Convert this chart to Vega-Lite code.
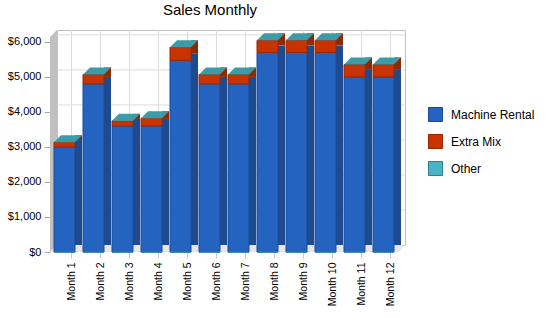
{
  "$schema": "https://vega.github.io/schema/vega-lite/v6.json",
  "width": 348,
  "height": 215,
  "autosize": "none",
  "padding": {"left": 57, "top": 30, "right": 145, "bottom": 73},
  "background": "white",
  "title": {
    "text": "Sales Monthly",
    "fontSize": 15,
    "fontWeight": "normal",
    "font": "Liberation Sans",
    "color": "#000000",
    "anchor": "middle",
    "frame": "group",
    "baseline": "alphabetic",
    "offset": 0,
    "dx": -21
  },
  "data": {
    "values": [
      {"month": "Month 1", "series": "Machine Rental", "value": 3000},
      {"month": "Month 1", "series": "Extra Mix", "value": 135},
      {"month": "Month 1", "series": "Other", "value": 0},
      {"month": "Month 2", "series": "Machine Rental", "value": 4800},
      {"month": "Month 2", "series": "Extra Mix", "value": 270},
      {"month": "Month 2", "series": "Other", "value": 0},
      {"month": "Month 3", "series": "Machine Rental", "value": 3600},
      {"month": "Month 3", "series": "Extra Mix", "value": 145},
      {"month": "Month 3", "series": "Other", "value": 0},
      {"month": "Month 4", "series": "Machine Rental", "value": 3600},
      {"month": "Month 4", "series": "Extra Mix", "value": 220},
      {"month": "Month 4", "series": "Other", "value": 0},
      {"month": "Month 5", "series": "Machine Rental", "value": 5475},
      {"month": "Month 5", "series": "Extra Mix", "value": 370},
      {"month": "Month 5", "series": "Other", "value": 0},
      {"month": "Month 6", "series": "Machine Rental", "value": 4800},
      {"month": "Month 6", "series": "Extra Mix", "value": 270},
      {"month": "Month 6", "series": "Other", "value": 0},
      {"month": "Month 7", "series": "Machine Rental", "value": 4800},
      {"month": "Month 7", "series": "Extra Mix", "value": 270},
      {"month": "Month 7", "series": "Other", "value": 0},
      {"month": "Month 8", "series": "Machine Rental", "value": 5700},
      {"month": "Month 8", "series": "Extra Mix", "value": 345},
      {"month": "Month 8", "series": "Other", "value": 0},
      {"month": "Month 9", "series": "Machine Rental", "value": 5700},
      {"month": "Month 9", "series": "Extra Mix", "value": 345},
      {"month": "Month 9", "series": "Other", "value": 0},
      {"month": "Month 10", "series": "Machine Rental", "value": 5700},
      {"month": "Month 10", "series": "Extra Mix", "value": 345},
      {"month": "Month 10", "series": "Other", "value": 0},
      {"month": "Month 11", "series": "Machine Rental", "value": 5000},
      {"month": "Month 11", "series": "Extra Mix", "value": 355},
      {"month": "Month 11", "series": "Other", "value": 0},
      {"month": "Month 12", "series": "Machine Rental", "value": 5000},
      {"month": "Month 12", "series": "Extra Mix", "value": 355},
      {"month": "Month 12", "series": "Other", "value": 0}
    ]
  },
  "layer": [
    {
      "data": {"values": [{"v": 1000}, {"v": 2000}, {"v": 3000}, {"v": 4000}, {"v": 5000}, {"v": 6000}]},
      "mark": {"type": "rule", "color": "#DCDCDC", "strokeWidth": 1},
      "encoding": {
        "y": {"field": "v", "type": "quantitative", "title": null,
          "scale": {"domain": [0, 6140], "nice": false, "zero": true},
          "axis": {"values": [0, 1000, 2000, 3000, 4000, 5000, 6000], "format": "$,d"}}
      }
    },
    {
      "mark": {"type": "rule", "color": "#DCDCDC", "strokeWidth": 1},
      "encoding": {
        "x": {"field": "month", "type": "nominal", "sort": null, "title": null, "scale": {"type": "band", "paddingInner": 0, "paddingOuter": 0}}
      }
    },
    {
      "data": {"values": [{}]},
      "mark": {"type": "point", "filled": true, "opacity": 1, "size": 400, "color": "#E6E6E6", "stroke": "#C8C8C8", "strokeWidth": 0.1,
        "shape": "M-17.4,0L17.4,0L16.7,0.7L-18.1,0.7Z"},
      "encoding": {
        "y": {"datum": 0, "type": "quantitative", "scale": {"domain": [0, 6140], "nice": false, "zero": true},
          "axis": {"values": [0, 1000, 2000, 3000, 4000, 5000, 6000], "format": "$,d"}}
      }
    },
    {
      "data": {"values": [{}]},
      "mark": {"type": "point", "filled": true, "opacity": 1, "size": 400, "color": "#C0C0C0", "strokeWidth": 0,
        "shape": "M-17.4,0L-17.4,-21.5L-18.1,-20.8L-18.1,0.7Z"},
      "encoding": {
        "y": {"datum": 0, "type": "quantitative", "scale": {"domain": [0, 6140], "nice": false, "zero": true},
          "axis": {"values": [0, 1000, 2000, 3000, 4000, 5000, 6000], "format": "$,d"}}
      }
    },
    {
      "mark": {"type": "bar", "width": 7, "xOffset": 7, "strokeWidth": 0},
      "encoding": {
        "x": {"field": "month", "type": "nominal", "sort": null, "title": null, "scale": {"type": "band", "paddingInner": 0, "paddingOuter": 0}},
        "y": {"field": "value", "type": "quantitative", "title": null, "scale": {"domain": [0, 6140], "nice": false, "zero": true},
          "axis": {"values": [0, 1000, 2000, 3000, 4000, 5000, 6000], "format": "$,d"}},
        "detail": {"field": "series", "type": "nominal", "sort": ["Machine Rental", "Extra Mix", "Other"]},
        "order": {"field": "series", "sort": "descending"},
        "fill": {
          "condition": [
            {"test": "datum.series === 'Machine Rental'", "value": "#1E4B90"},
            {"test": "datum.series === 'Extra Mix'", "value": "#8E2A00"}
          ],
          "value": "#2E7F8C"
        }
      }
    },
    {
      "mark": {"type": "bar", "width": 21, "xOffset": -7, "yOffset": 7, "y2Offset": 7, "strokeWidth": 1},
      "encoding": {
        "x": {"field": "month", "type": "nominal", "sort": null, "title": null,
          "scale": {"type": "band", "paddingInner": 0, "paddingOuter": 0}},
        "y": {"field": "value", "type": "quantitative", "title": null,
          "scale": {"domain": [0, 6140], "nice": false, "zero": true},
          "axis": {"values": [0, 1000, 2000, 3000, 4000, 5000, 6000], "format": "$,d"}},
        "color": {"field": "series", "type": "nominal", "title": null,
          "sort": ["Machine Rental", "Extra Mix", "Other"],
          "scale": {"domain": ["Machine Rental", "Extra Mix", "Other"], "range": ["#2563C0", "#C83300", "#4AB4C4"]},
          "legend": {"orient": "none", "legendX": 371, "legendY": 77, "title": null}},
        "stroke": {"field": "series", "type": "nominal", "title": null,
          "sort": ["Machine Rental", "Extra Mix", "Other"],
          "scale": {"domain": ["Machine Rental", "Extra Mix", "Other"], "range": ["#1B4A9C", "#992800", "#2B8090"]},
          "legend": {"orient": "none", "legendX": 371, "legendY": 77, "title": null}}
      }
    },
    {
      "mark": {"type": "point", "filled": true, "opacity": 1, "size": 400, "color": "#3B9BA7", "strokeWidth": 0,
        "shape": "M-1.75,0.7L0.35,0.7L1.05,0L-1.05,0Z"},
      "encoding": {
        "x": {"field": "month", "type": "nominal", "sort": null, "title": null, "scale": {"type": "band", "paddingInner": 0, "paddingOuter": 0}},
        "y": {"aggregate": "sum", "field": "value", "type": "quantitative", "title": null, "scale": {"domain": [0, 6140], "nice": false, "zero": true},
          "axis": {"values": [0, 1000, 2000, 3000, 4000, 5000, 6000], "format": "$,d"}}
      }
    }
  ],
  "config": {
    "font": "Liberation Sans",
    "view": {"stroke": "#C0C0C0", "fill": "white"},
    "axis": {"grid": false, "labelFont": "Liberation Sans", "domain": false, "labelColor": "#000000"},
    "axisY": {"orient": "left", "offset": 7, "tickOffset": 7, "labelFontSize": 11, "tickColor": "#A8A8A8", "tickSize": 6,
      "labelPadding": 3, "labelOverlap": false, "labelBound": false},
    "axisX": {"orient": "bottom", "offset": 7, "tickOffset": -7, "labelAngle": -90, "labelFontSize": 10.5,
      "tickColor": "#C8C8C8", "tickSize": 6, "labelPadding": 4},
    "legend": {
      "padding": 0,
      "symbolType": "square",
      "symbolSize": 196,
      "symbolStrokeWidth": 1,
      "symbolOpacity": 1,
      "labelFontSize": 12,
      "labelFont": "Liberation Sans",
      "labelColor": "#000000",
      "labelOffset": 8,
      "rowPadding": 8
    }
  }
}
